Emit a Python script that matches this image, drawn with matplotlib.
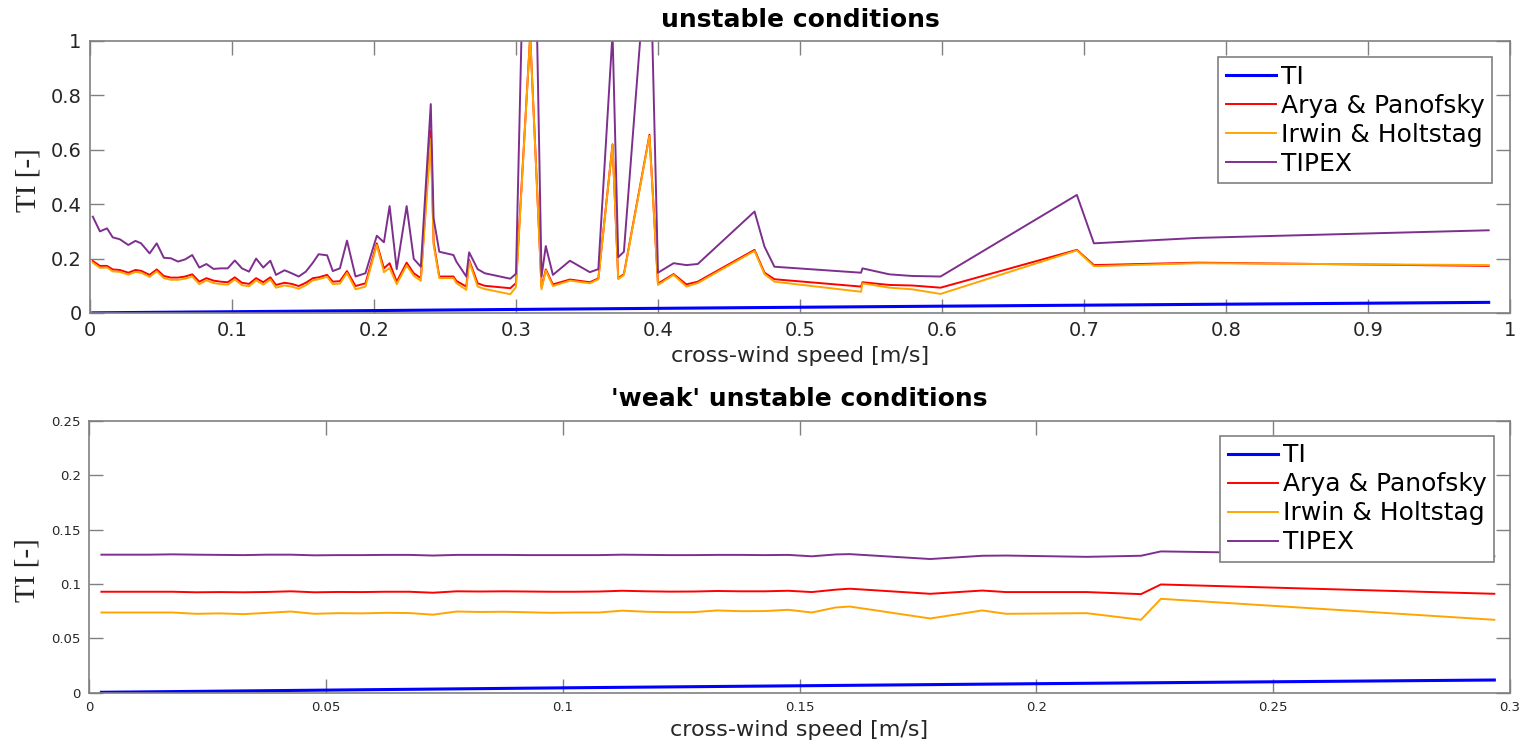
import numpy as np
import matplotlib.pyplot as plt

# ---- unstable conditions (top panel) ----
x_unst = [0.002, 0.007, 0.012, 0.016, 0.021, 0.027, 0.032, 0.036, 0.042, 0.047,
          0.052, 0.057, 0.062, 0.067, 0.072, 0.077, 0.082, 0.087, 0.092, 0.097,
          0.102, 0.107, 0.112, 0.117, 0.122, 0.127, 0.131, 0.137, 0.142, 0.147,
          0.152, 0.157, 0.161, 0.167, 0.171, 0.176, 0.181, 0.187, 0.194, 0.202,
          0.207, 0.211, 0.216, 0.223, 0.228, 0.233, 0.240, 0.242, 0.246, 0.256,
          0.258, 0.265, 0.267, 0.273, 0.278, 0.296, 0.300, 0.310, 0.318, 0.321,
          0.326, 0.338, 0.352, 0.358, 0.368, 0.372, 0.376, 0.394, 0.400, 0.411,
          0.420, 0.428, 0.468, 0.475, 0.482, 0.543, 0.544, 0.563, 0.579, 0.599,
          0.695, 0.707, 0.780, 0.985]

arya_unst = [0.191, 0.173, 0.173, 0.160, 0.158, 0.148, 0.158, 0.155, 0.140, 0.160,
             0.136, 0.130, 0.130, 0.134, 0.142, 0.115, 0.128, 0.119, 0.115, 0.113,
             0.131, 0.111, 0.107, 0.128, 0.113, 0.131, 0.103, 0.111, 0.107, 0.099,
             0.111, 0.128, 0.131, 0.140, 0.115, 0.117, 0.154, 0.099, 0.109, 0.256,
             0.164, 0.183, 0.115, 0.185, 0.146, 0.128, 0.670, 0.260, 0.134, 0.134,
             0.118, 0.097, 0.195, 0.109, 0.100, 0.091, 0.110, 1.020, 0.095, 0.160,
             0.105, 0.123, 0.113, 0.127, 0.620, 0.128, 0.143, 0.655, 0.108, 0.143,
             0.105, 0.115, 0.232, 0.148, 0.124, 0.097, 0.113, 0.103, 0.101, 0.093,
             0.232, 0.176, 0.185, 0.173]

irwin_unst = [0.185, 0.166, 0.167, 0.153, 0.151, 0.141, 0.151, 0.148, 0.133, 0.153,
              0.128, 0.122, 0.122, 0.126, 0.134, 0.106, 0.120, 0.110, 0.106, 0.104,
              0.123, 0.102, 0.098, 0.120, 0.104, 0.123, 0.093, 0.101, 0.097, 0.089,
              0.102, 0.120, 0.124, 0.133, 0.106, 0.108, 0.147, 0.087, 0.097, 0.250,
              0.150, 0.165, 0.106, 0.175, 0.137, 0.118, 0.640, 0.250, 0.128, 0.128,
              0.110, 0.085, 0.190, 0.097, 0.088, 0.069, 0.095, 1.020, 0.087, 0.156,
              0.099, 0.119, 0.109, 0.124, 0.618, 0.124, 0.140, 0.651, 0.103, 0.140,
              0.097, 0.110, 0.228, 0.143, 0.115, 0.078, 0.109, 0.093, 0.087, 0.070,
              0.230, 0.172, 0.183, 0.176]

tipex_unst = [0.354, 0.300, 0.311, 0.278, 0.271, 0.250, 0.265, 0.256, 0.219, 0.256,
              0.203, 0.201, 0.189, 0.197, 0.213, 0.167, 0.180, 0.162, 0.164, 0.164,
              0.193, 0.164, 0.152, 0.200, 0.167, 0.192, 0.140, 0.157, 0.146, 0.134,
              0.152, 0.185, 0.216, 0.212, 0.154, 0.164, 0.266, 0.134, 0.146, 0.284,
              0.260, 0.393, 0.161, 0.393, 0.199, 0.170, 0.768, 0.348, 0.225, 0.213,
              0.189, 0.134, 0.223, 0.161, 0.146, 0.126, 0.144, 2.400, 0.134, 0.246,
              0.140, 0.192, 0.150, 0.161, 1.030, 0.205, 0.225, 1.450, 0.148, 0.183,
              0.176, 0.180, 0.373, 0.244, 0.170, 0.148, 0.164, 0.142, 0.136, 0.134,
              0.434, 0.256, 0.276, 0.304]

# measured TI grows almost linearly with the cross-wind speed
x_ti_unst = [0.002, 0.3, 0.6, 0.985]
ti_unst = [0.0005, 0.013, 0.025, 0.039]

# ---- 'weak' unstable conditions (bottom panel) ----
x_weak = [0.0026, 0.0076, 0.0126, 0.0176, 0.0226, 0.0276, 0.0326, 0.0376, 0.0426, 0.0476,
          0.0526, 0.0576, 0.0626, 0.0676, 0.0726, 0.0776, 0.0826, 0.0876, 0.0926, 0.0976,
          0.1026, 0.1076, 0.1126, 0.1176, 0.1226, 0.1276, 0.1326, 0.1376, 0.1426, 0.1476,
          0.1526, 0.1576, 0.1606, 0.1776, 0.1886, 0.1936, 0.2106, 0.2221, 0.2263, 0.2967]

arya_weak = [0.0929, 0.0929, 0.0929, 0.0929, 0.0924, 0.0926, 0.0924, 0.0927, 0.0933, 0.0924,
             0.0927, 0.0926, 0.0929, 0.0929, 0.0920, 0.0933, 0.0931, 0.0933, 0.0931, 0.0929,
             0.0929, 0.0931, 0.0938, 0.0933, 0.0930, 0.0931, 0.0936, 0.0933, 0.0933, 0.0938,
             0.0926, 0.0948, 0.0957, 0.0910, 0.0940, 0.0926, 0.0926, 0.0907, 0.0996, 0.0910]

irwin_weak = [0.0738, 0.0738, 0.0738, 0.0738, 0.0726, 0.0730, 0.0723, 0.0735, 0.0747, 0.0726,
              0.0732, 0.0730, 0.0735, 0.0733, 0.0718, 0.0747, 0.0743, 0.0745, 0.0740, 0.0735,
              0.0738, 0.0738, 0.0755, 0.0745, 0.0741, 0.0741, 0.0757, 0.0750, 0.0751, 0.0763,
              0.0738, 0.0784, 0.0793, 0.0683, 0.0757, 0.0726, 0.0732, 0.0671, 0.0864, 0.0671]

tipex_weak = [0.1270, 0.1270, 0.1270, 0.1273, 0.1270, 0.1268, 0.1266, 0.1270, 0.1270, 0.1264,
              0.1266, 0.1266, 0.1268, 0.1268, 0.1262, 0.1268, 0.1268, 0.1268, 0.1266, 0.1266,
              0.1266, 0.1266, 0.1270, 0.1268, 0.1266, 0.1266, 0.1268, 0.1268, 0.1266, 0.1268,
              0.1255, 0.1272, 0.1275, 0.1230, 0.1260, 0.1262, 0.1250, 0.1260, 0.1300, 0.1255]

x_ti_weak = [0.0026, 0.1, 0.2, 0.2967]
ti_weak = [0.0004, 0.0045, 0.0083, 0.0117]

labels = ['TI', 'Arya & Panofsky', 'Irwin & Holtstag', 'TIPEX']
colors = ['#0000ff', '#ff0000', '#ffa500', '#7e2f8e']
widths = [2.2, 1.4, 1.4, 1.4]

edge = '#808080'
txt = '#262626'

fig = plt.figure(figsize=(15.2, 7.48), dpi=100)
ax1 = fig.add_axes([0.0592, 0.5816, 0.9342, 0.3636])
ax2 = fig.add_axes([0.0586, 0.0739, 0.9348, 0.3633])


def draw(ax, x_ti, ti, x, series):
    ax.plot(x_ti, ti, color=colors[0], lw=widths[0], label=labels[0])
    for k, y in enumerate(series):
        ax.plot(x, y, color=colors[k + 1], lw=widths[k + 1], label=labels[k + 1])


draw(ax1, x_ti_unst, ti_unst, x_unst, [arya_unst, irwin_unst, tipex_unst])
draw(ax2, x_ti_weak, ti_weak, x_weak, [arya_weak, irwin_weak, tipex_weak])

# axes limits and ticks
ax1.set_xlim(0, 1)
ax1.set_ylim(0, 1)
ax1.set_xticks(np.arange(0, 1.01, 0.1))
ax1.set_xticklabels(['0', '0.1', '0.2', '0.3', '0.4', '0.5', '0.6', '0.7', '0.8', '0.9', '1'])
ax1.set_yticks(np.arange(0, 1.01, 0.2))
ax1.set_yticklabels(['0', '0.2', '0.4', '0.6', '0.8', '1'])

ax2.set_xlim(0, 0.3)
ax2.set_ylim(0, 0.25)
ax2.set_xticks(np.arange(0, 0.301, 0.05))
ax2.set_xticklabels(['0', '0.05', '0.1', '0.15', '0.2', '0.25', '0.3'])
ax2.set_yticks(np.arange(0, 0.251, 0.05))
ax2.set_yticklabels(['0', '0.05', '0.1', '0.15', '0.2', '0.25'])

for ax, tfs in [(ax1, 14), (ax2, 9.5)]:
    for sp in ax.spines.values():
        sp.set_color(edge)
        sp.set_linewidth(1.2)
    ax.tick_params(direction='in', length=10, width=1.0, color=edge,
                   top=True, right=True, labelsize=tfs, labelcolor=txt, pad=6)

# titles and labels
ax1.set_title('unstable conditions', fontsize=18, fontweight='bold', pad=10)
ax2.set_title("'weak' unstable conditions", fontsize=18, fontweight='bold', pad=11)
ax1.set_xlabel('cross-wind speed [m/s]', fontsize=16, color=txt, labelpad=4)
ax2.set_xlabel('cross-wind speed [m/s]', fontsize=16, color=txt, labelpad=4)
ax1.set_ylabel('TI [-]', fontsize=21, family='Liberation Serif', color=txt)
ax1.yaxis.set_label_coords(-0.034, 0.49)
ax2.set_ylabel('TI [-]', fontsize=21, family='Liberation Serif', color=txt)
ax2.yaxis.set_label_coords(-0.034, 0.45)

# legends (boxed, top right)
for ax, anchor in [(ax1, (0.9873, 0.941)), (ax2, (0.9887, 0.945))]:
    leg = ax.legend(loc='upper right', bbox_to_anchor=anchor, borderaxespad=0,
                    fontsize=18, fancybox=False, framealpha=1, edgecolor=edge,
                    handlelength=2.0, handletextpad=0.2, labelspacing=0.2,
                    borderpad=0.3)
    leg.get_frame().set_linewidth(1.2)

fig.savefig('out.png', dpi=100, facecolor='white')
